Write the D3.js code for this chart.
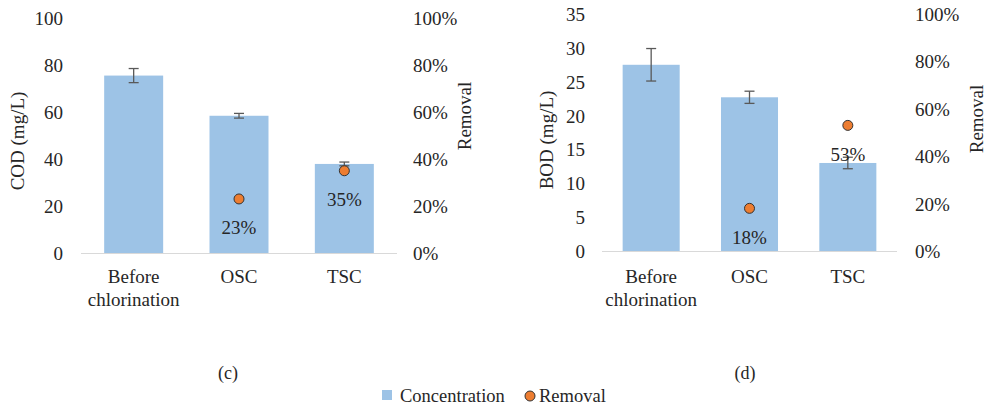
<!DOCTYPE html>
<html>
<head>
<meta charset="utf-8">
<script src="https://cdn.jsdelivr.net/npm/d3@7"></script>
<style>
  html, body { margin: 0; padding: 0; background: #fff; }
  svg text { font-family: "Liberation Serif", "Times New Roman", serif; fill: #262626; }
</style>
</head>
<body>
<svg id="chart" width="991" height="406"></svg>
<script>
// ---- data ----
const categories = ["Before chlorination", "OSC", "TSC"];
const codValues = [75.5, 58.4, 37.9];
const codErrors = [3.0, 1.0, 0.8];
const codRemoval = [null, 23, 35];
const bodValues = [27.5, 22.7, 13.0];
const bodErrors = [2.4, 0.9, 0.85];
const bodRemoval = [null, 18, 53];
const codTicks = [0, 20, 40, 60, 80, 100];
const bodTicks = [0, 5, 10, 15, 20, 25, 30, 35];
const removalTicks = [0, 20, 40, 60, 80, 100];
const panelLabels = ["(c)", "(d)"];
const legendLabels = ["Concentration", "Removal"];

const BAR = "#9DC3E6", DOT = "#ED7D31", ERR = "#595959", AXIS = "#D9D9D9";
const FS = "19px";
const svg = d3.select("#chart");

const panels = [
  { values: codValues, errors: codErrors, removal: codRemoval, ticks: codTicks, yMax: 100,
    yLabel: "COD (mg/L)", x0: 81, x1: 397, yTop: 18, yBot: 253, barPad: 0.44,
    leftTickX: 63, rightTickX: 413, yLabelX: 18, yLabelY: 141, remLabelX: 465, remLabelY: 116,
    panelLabel: panelLabels[0], panelX: 228 },
  { values: bodValues, errors: bodErrors, removal: bodRemoval, ticks: bodTicks, yMax: 35,
    yLabel: "BOD (mg/L)", x0: 602, x1: 897, yTop: 14, yBot: 251, barPad: 0.42,
    leftTickX: 585, rightTickX: 915, yLabelX: 547, yLabelY: 140, remLabelX: 977, remLabelY: 119,
    panelLabel: panelLabels[1], panelX: 745 }
];

panels.forEach(p => {
  const g = svg.append("g");
  const x = d3.scaleBand().domain(categories).range([p.x0, p.x1]).paddingInner(p.barPad).paddingOuter(p.barPad / 2);
  const y = d3.scaleLinear().domain([0, p.yMax]).range([p.yBot, p.yTop]);
  const yR = d3.scaleLinear().domain([0, 100]).range([p.yBot, p.yTop]);

  const la = g.append("g").attr("transform", `translate(${p.leftTickX},0)`)
    .call(d3.axisLeft(y).tickValues(p.ticks).tickSize(0).tickPadding(0));
  la.select(".domain").remove();
  la.selectAll("text").style("font-size", FS).attr("dy", "0.34em").attr("fill", "#262626");

  const ra = g.append("g").attr("transform", `translate(${p.rightTickX},0)`)
    .call(d3.axisRight(yR).tickValues(removalTicks).tickFormat(d => d + "%").tickSize(0).tickPadding(0));
  ra.select(".domain").remove();
  ra.selectAll("text").style("font-size", FS).attr("dy", "0.34em").attr("fill", "#262626");

  g.selectAll("rect.bar").data(p.values).enter().append("rect")
    .attr("x", (d, i) => x(categories[i]))
    .attr("width", x.bandwidth())
    .attr("y", d => y(d))
    .attr("height", d => p.yBot - y(d))
    .attr("fill", BAR);

  g.append("line").attr("x1", p.x0).attr("x2", p.x1).attr("y1", p.yBot + 0.5).attr("y2", p.yBot + 0.5)
    .attr("stroke", AXIS).attr("stroke-width", 1.2);

  p.values.forEach((v, i) => {
    const cx = x(categories[i]) + x.bandwidth() / 2;
    const e = p.errors[i];
    const eg = g.append("g").attr("stroke", ERR).attr("stroke-width", 1.3);
    eg.append("line").attr("x1", cx).attr("x2", cx).attr("y1", y(v + e)).attr("y2", y(v - e));
    eg.append("line").attr("x1", cx - 5).attr("x2", cx + 5).attr("y1", y(v + e)).attr("y2", y(v + e));
    eg.append("line").attr("x1", cx - 5).attr("x2", cx + 5).attr("y1", y(v - e)).attr("y2", y(v - e));
  });

  p.removal.forEach((r, i) => {
    if (r === null) return;
    const cx = x(categories[i]) + x.bandwidth() / 2;
    g.append("text").attr("x", cx).attr("y", yR(r) + 29).attr("dy", "0.34em")
      .attr("text-anchor", "middle").style("font-size", FS).text(r + "%");
    g.append("circle").attr("cx", cx).attr("cy", yR(r)).attr("r", 5)
      .attr("fill", DOT).attr("stroke", "#333").attr("stroke-width", 1);
  });

  categories.forEach(c => {
    const cx = x(c) + x.bandwidth() / 2;
    c.split(" ").forEach((w, j) => {
      g.append("text").attr("x", cx).attr("y", 283 + j * 23)
        .attr("text-anchor", "middle").style("font-size", FS).text(w);
    });
  });

  g.append("text").attr("transform", `translate(${p.yLabelX},${p.yLabelY}) rotate(-90)`)
    .attr("text-anchor", "middle").attr("dy", "0.34em").style("font-size", FS).text(p.yLabel);
  g.append("text").attr("transform", `translate(${p.remLabelX},${p.remLabelY}) rotate(-90)`)
    .attr("text-anchor", "middle").attr("dy", "0.34em").style("font-size", FS).text("Removal");

  g.append("text").attr("x", p.panelX).attr("y", 373).attr("dy", "0.34em")
    .attr("text-anchor", "middle").style("font-size", "18px").text(p.panelLabel);
});

const lg = svg.append("g");
lg.append("rect").attr("x", 382).attr("y", 390).attr("width", 10).attr("height", 10).attr("fill", BAR);
lg.append("text").attr("x", 400).attr("y", 396).attr("dy", "0.34em").style("font-size", "18.5px").text(legendLabels[0]);
lg.append("circle").attr("cx", 530).attr("cy", 396).attr("r", 5).attr("fill", DOT).attr("stroke", "#333").attr("stroke-width", 1);
lg.append("text").attr("x", 539).attr("y", 396).attr("dy", "0.34em").style("font-size", "18.5px").text(legendLabels[1]);
</script>
</body>
</html>
